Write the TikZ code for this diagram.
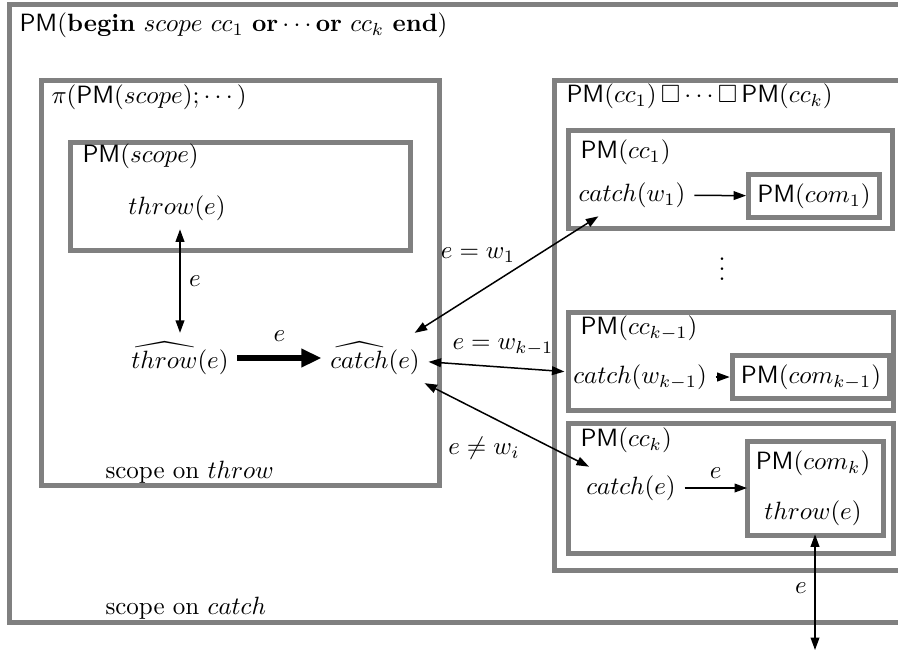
\documentclass[tikz,border=0pt]{standalone}
\usepackage{amsmath,amssymb}
\usetikzlibrary{arrows.meta}
\newcommand{\PM}{\textsf{PM}}
\begin{document}
\begin{tikzpicture}[x=0.40pt, y=-0.40pt,
    pmbox/.style = {draw=gray, line width=2pt},
    combox/.style = {pmbox, inner sep=3.5pt},
    lbl/.style = {anchor=west, inner sep=0pt},
    thin/.style = {line width=0.6pt, -{Triangle[length=5pt, width=3.5pt]}},
    both/.style = {line width=0.6pt, {Triangle[length=5pt, width=3.5pt]}-{Triangle[length=5pt, width=3.5pt]}}]

    \useasboundingbox (0,0) rectangle (898,654);
    \clip (0,0) rectangle (898,654);

    \draw[pmbox] (9,4) rectangle (930,622);
    \node[lbl] (whole) at (19,25) {\PM(\textbf{begin} $scope$ $cc_1$ \textbf{or}$\,\cdots$\textbf{or} $cc_k$ \textbf{end})};
    \node[lbl] (oncatch) at (105,608) {scope on $catch$};

    \draw[pmbox] (41,80) rectangle (439,485);
    \node[lbl] (pi) at (51,97) {$\pi(\PM(scope);\cdots)$};
    \node[lbl] (onthrow) at (105,472) {scope on $throw$};

    \draw[pmbox] (70,142) rectangle (410,250);
    \node[lbl] (scope) at (82,156) {\PM$(scope)$};
    \node (throw) at (177,208) {$throw(e)$};

    \node (hthrow) at (180,358) {$\widehat{throw}(e)$};
    \node (hcatch) at (375,358) {$\widehat{catch}(e)$};
    \draw[both] (hthrow.north) -- (hthrow.north |- throw.south) node[midway, right] {$e$};
    \draw[line width=2.6pt, -{Triangle[length=8pt, width=7pt]}] (hthrow) -- (hcatch) node[midway, above=2pt] {$e$};

    \draw[pmbox] (554,80) rectangle (930,570);
    \node[lbl] (alts) at (566,96) {\PM$(cc_1)\,\square\cdots\square\,$\PM$(cc_k)$};

    \draw[pmbox] (568,130) rectangle (892,228);
    \node[lbl] (cc1) at (580,152) {\PM$(cc_1)$};
    \node (catch1) at (632,195) {$catch(w_1)$};
    \node[combox] (com1) at (814,196) {\PM$(com_1)$};
    \draw[thin] (catch1) -- (com1);

    \node (dots) at (722,262) {$\vdots$};

    \draw[pmbox] (568,312) rectangle (893,410);
    \node[lbl] (cck1) at (580,328) {\PM$(cc_{k-1})$};
    \node (catchk1) at (640,377) {$catch(w_{k-1})$};
    \node[combox] (comk1) at (811,377) {\PM$(com_{k-1})$};
    \draw[thin] (catchk1) -- (comk1);

    \draw[pmbox] (568,423) rectangle (893,553);
    \node[lbl] (cck) at (580,440) {\PM$(cc_k)$};
    \node (catchk) at (631,488) {$catch(e)$};
    \draw[pmbox] (747,441) rectangle (883,535);
    \coordinate (comkw) at (747,488);
    \node (comk) at (813,463) {\PM$(com_k)$};
    \node (throwk) at (813,513) {$throw(e)$};
    \draw[thin] (catchk) -- (comkw) node[midway, above] {$e$};

    \coordinate (out) at (815,650);
    \draw[both] (throwk.south -| out) -- (out);
    \node (eout) at (801,588) {$e$};

    \draw[both] (hcatch) -- (catch1);
    \draw[both] (hcatch) -- (catchk1);
    \draw[both] (hcatch) -- (catchk);
    \node (ew1) at (478,255) {$e=w_1$};
    \node (ewk1) at (503,347) {$e=w_{k-1}$};
    \node (ewi) at (484,448) {$e\neq w_i$};

\end{tikzpicture}
\end{document}
